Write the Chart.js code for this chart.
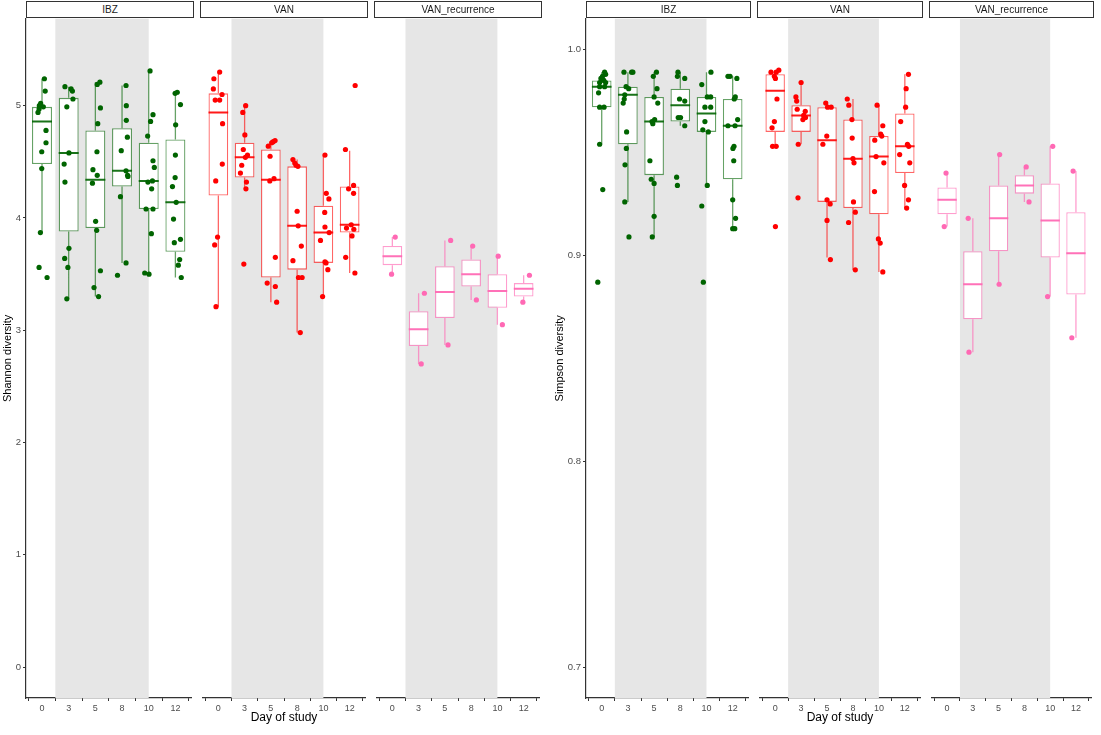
<!DOCTYPE html>
<html lang="en">
<head>
<meta charset="UTF-8">
<title>Shannon and Simpson diversity by day of study</title>
<script src="https://cdn.jsdelivr.net/npm/chart.js"></script>
<style>
  body { margin: 0; background: #fff; font-family: "Liberation Sans", Arial, sans-serif; }
  #wrap { position: relative; width: 1101px; height: 735px; overflow: hidden; }
  .strip { position: absolute; top: 1px; height: 17px; box-sizing: border-box; border: 1.2px solid #333; z-index: 2;
           background: #fff; font-size: 10px; color: #1a1a1a; text-align: center; line-height: 15px; }
  /* chart area starts 8px below the canvas top (tick label padding) */
  canvas { position: absolute; top: 11px; }
</style>
</head>
<body>
<div id="wrap">
  <div class="strip" style="left:26px;width:168px">IBZ</div>
  <div class="strip" style="left:200px;width:168px">VAN</div>
  <div class="strip" style="left:374px;width:168px">VAN_recurrence</div>
  <div class="strip" style="left:586px;width:165px">IBZ</div>
  <div class="strip" style="left:757px;width:166px">VAN</div>
  <div class="strip" style="left:929px;width:165px">VAN_recurrence</div>

  <canvas id="sh-ibz" width="194" height="724" style="left:0px"></canvas>
  <canvas id="sh-van" width="168" height="724" style="left:200px"></canvas>
  <canvas id="sh-rec" width="168" height="724" style="left:374px"></canvas>
  <canvas id="si-ibz" width="201" height="724" style="left:550px"></canvas>
  <canvas id="si-van" width="166" height="724" style="left:757px"></canvas>
  <canvas id="si-rec" width="165" height="724" style="left:929px"></canvas>
</div>

<script>
const days = ['0', '3', '5', '8', '10', '12'];
const shannonTicks = [0, 1, 2, 3, 4, 5];
const simpsonTicks = [0.7, 0.8, 0.9, 1.0];
const shadeBand = [0.5, 4]; // grey band, from between day 0/3 up to day 10

// boxes: [lower whisker, Q1, median, Q3, upper whisker] per day
// points: [day index, jitter, value]
const shannonIbzBox = [[3.87, 4.48, 4.86, 4.99, 5.24], [3.28, 3.88, 4.58, 5.07, 5.17], [3.30, 3.91, 4.34, 4.78, 5.21],
                       [3.60, 4.28, 4.42, 4.80, 5.18], [3.50, 4.08, 4.33, 4.67, 5.31], [3.47, 3.70, 4.14, 4.70, 5.12]];
const shannonIbzPts = [
  [0, 0.09, 5.24], [0, 0.12, 5.13], [0, -0.05, 5.02], [0, 0.05, 4.99], [0, -0.10, 5.00], [0, -0.15, 4.94], [0, -0.11, 4.97],
  [0, 0.15, 4.78], [0, 0.15, 4.67], [0, -0.01, 4.59], [0, -0.01, 4.44], [0, -0.06, 3.87], [0, -0.11, 3.56], [0, 0.19, 3.47],
  [1, -0.14, 5.17], [1, 0.09, 5.15], [1, 0.14, 5.13], [1, 0.16, 5.06], [1, -0.07, 4.99], [1, 0.01, 4.58], [1, -0.17, 4.48],
  [1, -0.14, 4.32], [1, 0.01, 3.73], [1, -0.15, 3.64], [1, -0.03, 3.56], [1, -0.07, 3.28],
  [2, 0.17, 5.21], [2, 0.07, 5.19], [2, 0.19, 4.98], [2, 0.09, 4.84], [2, 0.06, 4.59], [2, -0.09, 4.43], [2, 0.07, 4.38],
  [2, -0.11, 4.31], [2, 0.01, 3.97], [2, 0.05, 3.89], [2, 0.19, 3.53], [2, -0.05, 3.38], [2, 0.12, 3.30],
  [3, 0.15, 5.18], [3, 0.16, 5.00], [3, 0.16, 4.87], [3, 0.20, 4.72], [3, -0.03, 4.60], [3, 0.15, 4.42], [3, 0.21, 4.38],
  [3, 0.22, 4.37], [3, -0.06, 4.19], [3, 0.15, 3.60], [3, -0.17, 3.49],
  [4, 0.05, 5.31], [4, 0.16, 4.92], [4, 0.07, 4.86], [4, -0.04, 4.73], [4, 0.16, 4.51], [4, 0.21, 4.45], [4, 0.14, 4.33],
  [4, -0.03, 4.32], [4, 0.11, 4.26], [4, -0.10, 4.08], [4, 0.16, 4.08], [4, 0.10, 3.86], [4, -0.15, 3.51], [4, 0.01, 3.50],
  [5, 0.07, 5.12], [5, -0.01, 5.11], [5, 0.19, 5.01], [5, 0.01, 4.83], [5, 0.00, 4.56], [5, -0.01, 4.36], [5, -0.11, 4.28],
  [5, 0.03, 4.14], [5, -0.07, 3.99], [5, 0.19, 3.81], [5, -0.04, 3.78], [5, 0.16, 3.63], [5, 0.11, 3.58], [5, 0.22, 3.47]
];

const shannonVanBox = [[3.21, 4.20, 4.94, 5.11, 5.30], [4.26, 4.36, 4.54, 4.67, 5.00], [3.25, 3.47, 4.34, 4.61, 4.69],
                       [2.98, 3.54, 3.93, 4.46, 4.52], [3.30, 3.60, 3.87, 4.11, 4.56], [3.51, 3.87, 3.94, 4.28, 4.60]];
const shannonVanPts = [
  [0, 0.05, 5.30], [0, -0.17, 5.24], [0, -0.19, 5.15], [0, 0.14, 5.10], [0, -0.12, 5.05], [0, 0.05, 5.05], [0, 0.16, 4.84],
  [0, 0.15, 4.48], [0, -0.10, 4.33], [0, -0.03, 3.83], [0, -0.14, 3.76], [0, -0.09, 3.21],
  [1, 0.04, 5.00], [1, -0.07, 4.94], [1, 0.01, 4.74], [1, -0.05, 4.61], [1, 0.11, 4.56], [1, 0.03, 4.54], [1, -0.11, 4.47],
  [1, -0.16, 4.40], [1, 0.07, 4.32], [1, 0.05, 4.26], [1, -0.03, 3.59],
  [2, 0.16, 4.69], [2, 0.09, 4.68], [2, 0.03, 4.67], [2, -0.10, 4.64], [2, -0.03, 4.55], [2, 0.12, 4.35], [2, -0.04, 4.33],
  [2, 0.17, 3.65], [2, -0.14, 3.42], [2, 0.17, 3.39], [2, 0.22, 3.25],
  [3, -0.16, 4.52], [3, -0.09, 4.49], [3, -0.04, 4.47], [3, 0.03, 4.46], [3, 0.00, 4.06], [3, 0.04, 3.93], [3, 0.16, 3.75],
  [3, -0.16, 3.62], [3, 0.05, 3.47], [3, 0.19, 3.47], [3, 0.12, 2.98],
  [4, 0.06, 4.56], [4, 0.11, 4.22], [4, 0.21, 4.17], [4, 0.05, 4.05], [4, 0.06, 3.92], [4, 0.22, 3.87], [4, -0.11, 3.80],
  [4, 0.06, 3.61], [4, 0.10, 3.60], [4, 0.17, 3.54], [4, -0.03, 3.30],
  [5, 0.21, 5.18], [5, -0.16, 4.61], [5, 0.15, 4.29], [5, -0.04, 4.26], [5, 0.15, 4.22], [5, 0.06, 3.94], [5, -0.12, 3.91],
  [5, 0.16, 3.90], [5, 0.09, 3.84], [5, -0.15, 3.65], [5, 0.20, 3.51]
];

const shannonRecBox = [[3.50, 3.58, 3.66, 3.75, 3.83], [2.70, 2.86, 3.01, 3.17, 3.33], [2.87, 3.11, 3.34, 3.57, 3.80],
                       [3.27, 3.39, 3.50, 3.63, 3.75], [3.05, 3.20, 3.35, 3.50, 3.66], [3.25, 3.30, 3.37, 3.42, 3.49]];
const shannonRecPts = [
  [0, 0.11, 3.83], [0, -0.03, 3.50], [1, 0.22, 3.33], [1, 0.10, 2.70], [2, 0.22, 3.80], [2, 0.12, 2.87],
  [3, 0.06, 3.75], [3, 0.20, 3.27], [4, 0.03, 3.66], [4, 0.19, 3.05], [5, 0.22, 3.49], [5, -0.03, 3.25]
];

const simpsonIbzBox = [[0.954, 0.972, 0.982, 0.985, 0.989], [0.926, 0.954, 0.978, 0.982, 0.989], [0.909, 0.939, 0.965, 0.977, 0.989],
                       [0.963, 0.965, 0.973, 0.981, 0.989], [0.934, 0.960, 0.969, 0.977, 0.989], [0.913, 0.937, 0.963, 0.976, 0.987]];
const simpsonIbzPts = [
  [0, 0.11, 0.989], [0, 0.15, 0.988], [0, 0.03, 0.987], [0, -0.03, 0.986], [0, 0.08, 0.985], [0, 0.15, 0.984], [0, -0.08, 0.984],
  [0, -0.08, 0.982], [0, 0.11, 0.982], [0, -0.12, 0.979], [0, -0.08, 0.972], [0, 0.09, 0.972], [0, -0.08, 0.954], [0, 0.04, 0.932],
  [0, -0.15, 0.887],
  [1, -0.15, 0.989], [1, 0.14, 0.989], [1, 0.19, 0.989], [1, -0.07, 0.982], [1, 0.03, 0.981], [1, -0.12, 0.978], [1, -0.14, 0.976],
  [1, -0.18, 0.974], [1, -0.05, 0.960], [1, -0.06, 0.952], [1, -0.11, 0.944], [1, -0.12, 0.926], [1, 0.04, 0.909],
  [2, 0.09, 0.989], [2, -0.03, 0.987], [2, 0.11, 0.981], [2, 0.00, 0.977], [2, 0.14, 0.974], [2, -0.08, 0.965], [2, 0.02, 0.966],
  [2, -0.05, 0.964], [2, -0.16, 0.946], [2, -0.11, 0.937], [2, 0.00, 0.935], [2, 0.00, 0.919], [2, -0.07, 0.909],
  [3, -0.09, 0.989], [3, 0.17, 0.986], [3, -0.11, 0.987], [3, -0.03, 0.976], [3, 0.17, 0.975], [3, -0.08, 0.967], [3, 0.01, 0.967],
  [3, 0.17, 0.963], [3, -0.14, 0.938], [3, -0.11, 0.934],
  [4, 0.17, 0.989], [4, -0.18, 0.983], [4, 0.03, 0.977], [4, 0.16, 0.977], [4, -0.06, 0.972], [4, 0.16, 0.972], [4, -0.06, 0.965],
  [4, -0.14, 0.961], [4, 0.07, 0.960], [4, 0.03, 0.934], [4, -0.18, 0.924], [4, -0.12, 0.887],
  [5, -0.18, 0.987], [5, -0.10, 0.987], [5, 0.16, 0.986], [5, 0.10, 0.977], [5, 0.06, 0.976], [5, 0.19, 0.966], [5, -0.18, 0.963],
  [5, 0.09, 0.963], [5, 0.05, 0.953], [5, 0.01, 0.952], [5, 0.04, 0.946], [5, 0.00, 0.927], [5, 0.11, 0.918], [5, 0.00, 0.913],
  [5, 0.08, 0.913]
];

const simpsonVanBox = [[0.953, 0.960, 0.980, 0.988, 0.990], [0.954, 0.960, 0.968, 0.973, 0.984], [0.899, 0.926, 0.956, 0.972, 0.975],
                       [0.893, 0.923, 0.947, 0.966, 0.976], [0.892, 0.920, 0.948, 0.958, 0.973], [0.923, 0.940, 0.953, 0.969, 0.988]];
const simpsonVanPts = [
  [0, 0.14, 0.990], [0, 0.04, 0.989], [0, -0.16, 0.989], [0, -0.03, 0.987], [0, 0.01, 0.986], [0, 0.07, 0.976], [0, -0.03, 0.965],
  [0, -0.12, 0.962], [0, -0.10, 0.953], [0, 0.04, 0.953], [0, 0.01, 0.914],
  [1, 0.00, 0.984], [1, -0.20, 0.977], [1, -0.17, 0.975], [1, -0.15, 0.971], [1, 0.16, 0.970], [1, 0.10, 0.968], [1, 0.17, 0.967],
  [1, 0.07, 0.966], [1, -0.11, 0.954], [1, -0.12, 0.928],
  [2, -0.05, 0.974], [2, 0.16, 0.972], [2, 0.02, 0.972], [2, -0.01, 0.958], [2, -0.16, 0.954], [2, 0.00, 0.927], [2, 0.12, 0.925],
  [2, 0.00, 0.917], [2, 0.13, 0.898],
  [3, -0.22, 0.976], [3, -0.16, 0.973], [3, -0.04, 0.966], [3, -0.03, 0.957], [3, 0.00, 0.947], [3, 0.04, 0.945], [3, 0.02, 0.926],
  [3, 0.09, 0.921], [3, -0.17, 0.916], [3, 0.09, 0.893],
  [4, -0.07, 0.973], [4, 0.15, 0.963], [4, 0.07, 0.959], [4, 0.11, 0.958], [4, -0.16, 0.956], [4, -0.11, 0.948], [4, 0.19, 0.945],
  [4, -0.17, 0.931], [4, -0.02, 0.908], [4, 0.05, 0.906], [4, 0.15, 0.892],
  [5, 0.14, 0.988], [5, 0.05, 0.981], [5, 0.03, 0.972], [5, -0.16, 0.965], [5, 0.10, 0.954], [5, 0.15, 0.953], [5, -0.20, 0.949],
  [5, 0.19, 0.945], [5, -0.01, 0.934], [5, 0.14, 0.927], [5, 0.07, 0.923]
];

const simpsonRecBox = [[0.914, 0.920, 0.927, 0.933, 0.940], [0.853, 0.869, 0.886, 0.902, 0.918], [0.886, 0.902, 0.918, 0.934, 0.949],
                       [0.926, 0.930, 0.934, 0.939, 0.943], [0.880, 0.899, 0.917, 0.935, 0.953], [0.860, 0.881, 0.901, 0.921, 0.941]];
const simpsonRecPts = [
  [0, -0.04, 0.940], [0, -0.11, 0.914], [1, -0.18, 0.918], [1, -0.15, 0.853], [2, 0.04, 0.949], [2, 0.02, 0.886],
  [3, 0.07, 0.943], [3, 0.18, 0.926], [4, 0.10, 0.953], [4, -0.10, 0.880], [5, -0.11, 0.941], [5, -0.16, 0.860]
];

const green = { pt: '#006400', line: 'rgba(0,100,0,0.6)', med: 'rgba(0,100,0,0.9)' };
const red = { pt: '#ff0000', line: 'rgba(255,0,0,0.6)', med: 'rgba(255,0,0,0.9)' };
const pink = { pt: '#ff69b4', line: 'rgba(255,105,180,0.65)', med: 'rgba(255,105,180,0.95)' };

Chart.defaults.font.family = '"Liberation Sans", Arial, sans-serif';
Chart.defaults.animation = false;

const shadePlugin = {
  id: 'shade',
  beforeDatasetsDraw(chart) {
    const { ctx, chartArea, scales } = chart;
    const x1 = scales.x.getPixelForValue(shadeBand[0]);
    const x2 = scales.x.getPixelForValue(shadeBand[1]);
    ctx.save();
    ctx.fillStyle = '#e6e6e6';
    ctx.fillRect(x1, chartArea.top, x2 - x1, chartArea.bottom - chartArea.top);
    ctx.restore();
  }
};

function whiskerData(box) {
  const out = [];
  box.forEach((b, i) => {
    out.push({ x: i, y: b[0] }, { x: i, y: b[1] }, { x: i, y: null });
    out.push({ x: i, y: b[3] }, { x: i, y: b[4] }, { x: i, y: null });
  });
  return out;
}

function medianData(box) {
  const out = [];
  box.forEach((b, i) => {
    out.push({ x: i - 0.375, y: b[2] }, { x: i + 0.375, y: b[2] }, { x: i, y: null });
  });
  return out;
}

function drawFacet(id, box, pts, col, yCfg, showY, xTitle) {
  // every facet keeps its y axis so the layout padding is the same; only the first one is visible
  const hidden = 'rgba(0,0,0,0)';
  new Chart(document.getElementById(id), {
    type: 'scatter',
    data: {
      datasets: [
        { data: pts.map(p => ({ x: p[0] + p[1], y: p[2] })), pointRadius: 2.6, pointHoverRadius: 2.6,
          backgroundColor: col.pt, borderWidth: 0, order: 0 },
        { data: medianData(box), showLine: true, spanGaps: false, borderColor: col.med, borderWidth: 2,
          pointRadius: 0, order: 1 },
        { data: whiskerData(box), showLine: true, spanGaps: false, borderColor: col.line, borderWidth: 1.3,
          pointRadius: 0, order: 2 },
        { type: 'bar', data: box.map((b, i) => ({ x: i, y: [b[1], b[3]] })), backgroundColor: '#fff',
          borderColor: col.line, borderWidth: 1.3, borderSkipped: false, barPercentage: 0.75,
          categoryPercentage: 1, grouped: false, order: 3 }
      ]
    },
    options: {
      responsive: false,
      layout: { padding: 0 },
      plugins: { legend: { display: false }, tooltip: { enabled: false } },
      scales: {
        x: {
          type: 'linear', min: -0.6, max: 5.6, offset: false,
          afterBuildTicks: s => { s.ticks = days.map((d, i) => ({ value: i })); },
          afterFit: s => { s.height = 37; },
          ticks: { callback: v => days[v], color: '#4d4d4d', font: { size: 9 }, padding: 2, autoSkip: false, maxRotation: 0 },
          grid: { display: true, drawOnChartArea: false, drawTicks: true, tickLength: 3, color: '#333' },
          border: { display: true, color: '#333', width: 1.2 },
          title: { display: !!xTitle, text: xTitle || '', color: '#000', font: { size: 12 }, padding: { top: 0, bottom: 10 } }
        },
        y: {
          type: 'linear', min: yCfg.min, max: yCfg.max,
          afterBuildTicks: s => { s.ticks = yCfg.ticks.map(v => ({ value: v })); },
          afterFit: s => { s.width = showY ? yCfg.width : 0; },
          ticks: { callback: yCfg.fmt, color: showY ? '#4d4d4d' : hidden, font: { size: 9.5 }, padding: 2 },
          grid: { display: showY, drawOnChartArea: false, drawTicks: true, tickLength: 3, color: '#333' },
          border: { display: showY, color: '#333', width: 1.2 },
          title: { display: showY, text: yCfg.title, color: '#000', font: { size: 11 }, padding: { top: yCfg.titlePad, bottom: 0 } }
        }
      }
    },
    plugins: [shadePlugin]
  });
}

const shannonY = { min: -0.275, max: 5.775, ticks: shannonTicks, fmt: v => String(v), title: 'Shannon diversity', width: 26, titlePad: 1.5 };
const simpsonY = { min: 0.685, max: 1.015, ticks: simpsonTicks, fmt: v => v.toFixed(1), title: 'Simpson diversity', width: 36, titlePad: 3.5 };

drawFacet('sh-ibz', shannonIbzBox, shannonIbzPts, green, shannonY, true, null);
drawFacet('sh-van', shannonVanBox, shannonVanPts, red, shannonY, false, 'Day of study');
drawFacet('sh-rec', shannonRecBox, shannonRecPts, pink, shannonY, false, null);
drawFacet('si-ibz', simpsonIbzBox, simpsonIbzPts, green, simpsonY, true, null);
drawFacet('si-van', simpsonVanBox, simpsonVanPts, red, simpsonY, false, 'Day of study');
drawFacet('si-rec', simpsonRecBox, simpsonRecPts, pink, simpsonY, false, null);
</script>
</body>
</html>
